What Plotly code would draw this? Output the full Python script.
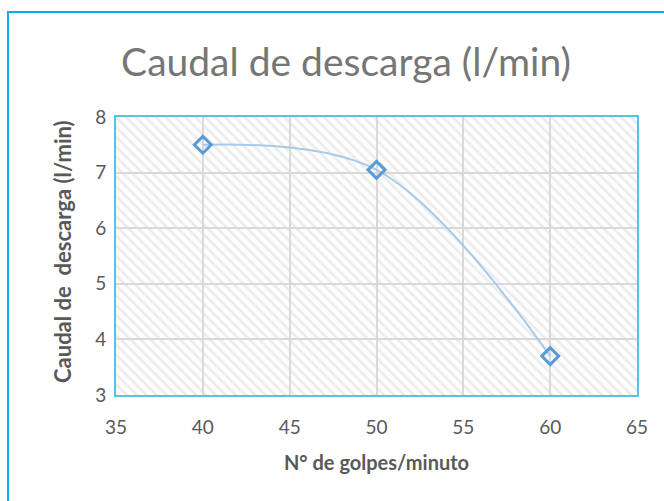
import plotly.graph_objects as go

# Discharge flow vs. pump strokes per minute
golpes = [40, 50, 60]
caudal = [7.5, 7.05, 3.7]

x_range = [35, 65]
y_range = [3, 8]
x_ticks = [35, 40, 45, 50, 55, 60, 65]
y_ticks = [3, 4, 5, 6, 7, 8]

W, H = 664, 501
L, R, T, B = 116, 27, 117, 106

fig = go.Figure()

# hatched plot-area background
fig.add_trace(go.Scatter(
    x=[x_range[0], x_range[1], x_range[1], x_range[0], x_range[0]],
    y=[y_range[0], y_range[0], y_range[1], y_range[1], y_range[0]],
    mode="none", fill="toself", fillcolor="rgba(0,0,0,0)",
    fillpattern=dict(shape="\\", fgcolor="#d9d9d9", bgcolor="rgba(0,0,0,0)",
                     size=7, solidity=0.4),
    hoverinfo="skip", showlegend=False,
))

fig.add_trace(go.Scatter(
    x=golpes, y=caudal, mode="lines+markers",
    line=dict(shape="spline", smoothing=1.0, color="#a9c9ea", width=2),
    marker=dict(symbol="diamond-open", size=13, color="#5b9bd5",
                line=dict(color="#5b9bd5", width=3)),
    showlegend=False,
))

tick_font = dict(family="Lato, 'Open Sans', sans-serif", size=19, color="#595959")
title_font = dict(family="Lato, 'Open Sans', sans-serif", size=20, color="#595959")

fig.update_xaxes(range=x_range, tickvals=x_ticks, showgrid=True, gridcolor="#d9d9d9",
                 gridwidth=2, zeroline=False, showline=True, linecolor="#5bc0e8",
                 linewidth=2, mirror=True, ticks="", tickfont=tick_font,
                 ticklabelstandoff=14,
                 title=dict(text="<b>N° de golpes/minuto</b>", font=title_font, standoff=19))
fig.update_yaxes(range=y_range, tickvals=y_ticks, showgrid=True, gridcolor="#d9d9d9",
                 gridwidth=2, zeroline=False, showline=True, linecolor="#5bc0e8",
                 linewidth=2, mirror=True, ticks="", tickfont=tick_font,
                 ticklabelstandoff=4)

pw = W - L - R
ph = H - T - B

# y-axis title placed as a rotated annotation
fig.add_annotation(text="<b>Caudal de  descarga (l/min)</b>", textangle=-90,
                   xref="paper", yref="paper", x=(62 - L) / pw, y=(H - B - 252) / ph,
                   xanchor="center", yanchor="middle", showarrow=False,
                   font=dict(family="Lato, 'Open Sans', sans-serif", size=22, color="#595959"))

# outer chart border (left and top edges visible)
fig.add_shape(type="rect", xref="paper", yref="paper",
              x0=(8 - L) / pw, x1=(W + 10 - L) / pw,
              y0=(H - B - (H + 10)) / ph, y1=(H - B - 12) / ph,
              line=dict(color="#00b0f0", width=2), fillcolor="rgba(0,0,0,0)", layer="below")

fig.update_layout(
    width=W, height=H,
    margin=dict(l=L, r=R, t=T, b=B),
    paper_bgcolor="white", plot_bgcolor="white",
    title=dict(text="Caudal de descarga (l/min)", x=346 / W, xanchor="center",
               y=1 - 62 / H, yanchor="middle",
               font=dict(family="Lato, 'Open Sans', sans-serif", size=39, color="#767676")),
)

fig.write_html("out.html")
